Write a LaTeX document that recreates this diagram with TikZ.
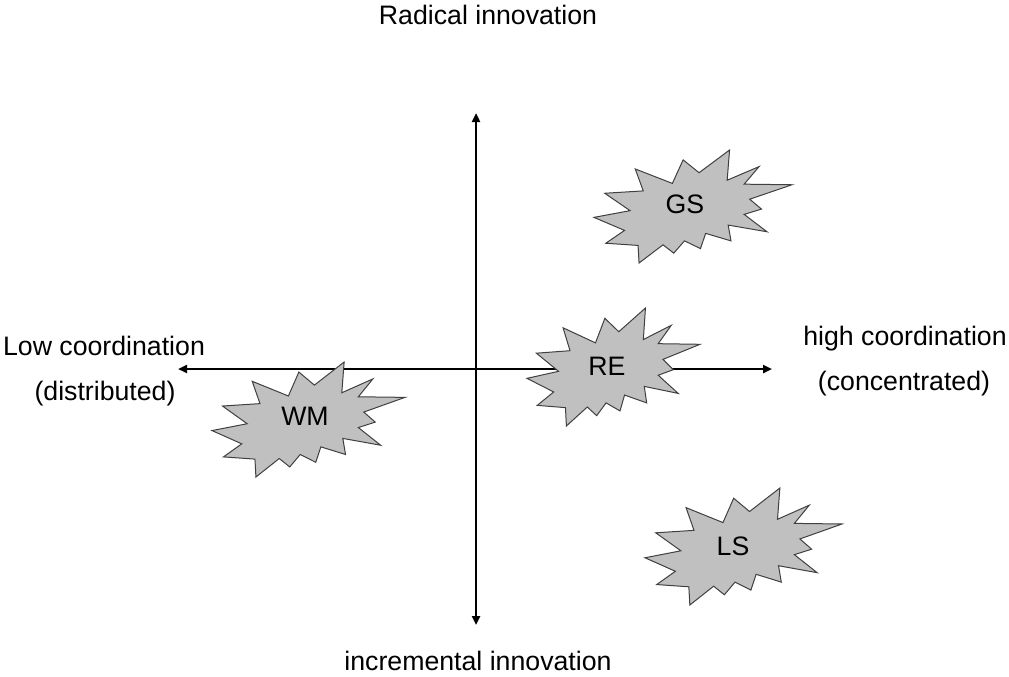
\documentclass[tikz,border=0pt]{standalone}
\usepackage{fontspec}
\setmainfont{Liberation Sans}
\usetikzlibrary{arrows.meta}
\definecolor{sealfill}{HTML}{C0C0C0}
\definecolor{sealline}{HTML}{404040}
\tikzset{
  axis/.style={line width=2.5pt, {Triangle[length=9pt,width=8pt]}-{Triangle[length=9pt,width=8pt]}},
  sealshape/.style={fill=sealfill, draw=sealline, line width=1pt, line join=miter},
  lbl/.style={font=\fontsize{26.7}{32}\selectfont, inner sep=0pt, anchor=base},
  seal/.pic={
    \draw[sealshape] (530.6,201.0) -- (684.7,0) -- (672.5,267.5) -- (833.7,146.9)
      -- (758.3,302.4) -- (1000,307.6) -- (786.3,435.3) -- (845.8,522.7)
      -- (758.3,569.9) -- (873.9,723.7) -- (677.8,664.4) -- (691.8,804.2)
      -- (563.9,737.7) -- (537.6,872.3) -- (457.0,804.2) -- (402.8,912.6)
      -- (348.5,839.1) -- (227.6,1000) -- (222.5,844.4) -- (59.5,825.2)
      -- (154.2,711.6) -- (0,596.2) -- (182.2,536.7) -- (54.3,382.9)
      -- (248.7,361.9) -- (208.4,167.8) -- (395.8,295.5) -- (450.1,87.4) -- cycle;
  }
}
\begin{document}
\begin{tikzpicture}[x=1pt,y=-1pt]
\useasboundingbox (0,0) rectangle (1009,677);
% axes
\coordinate (vtop) at (476,113);
\coordinate (vbot) at (476,625);
\coordinate (hleft) at (178,369);
\coordinate (hright) at (772,369);
\draw[axis] (vbot) -- (vtop);
\draw[axis] (hleft) -- (hright);
% seals
\begin{scope}[shift={(594,150)}, x=0.198pt, y=-0.113pt]
  \pic {seal};
\end{scope}
\begin{scope}[shift={(527,308)}, x=0.173pt, y=-0.118pt]
  \pic {seal};
\end{scope}
\begin{scope}[shift={(212,362)}, x=0.193pt, y=-0.115pt]
  \pic {seal};
\end{scope}
\begin{scope}[shift={(645,488)}, x=0.197pt, y=-0.117pt]
  \pic {seal};
\end{scope}
% seal labels
\node[lbl] (gs) at (685,213) {GS};
\node[lbl] (re) at (607,375) {RE};
\node[lbl] (wm) at (305,425) {WM};
\node[lbl] (ls) at (733,555) {LS};
% axis labels
\node[lbl] (radical) at (488,25) {Radical innovation};
\node[lbl] (incr) at (478,670) {incremental innovation};
\node[lbl] (low) at (104,355) {Low coordination};
\node[lbl] (dist) at (105,400) {(distributed)};
\node[lbl] (high) at (905,345) {high coordination};
\node[lbl] (conc) at (904,390) {(concentrated)};
\end{tikzpicture}
\end{document}
